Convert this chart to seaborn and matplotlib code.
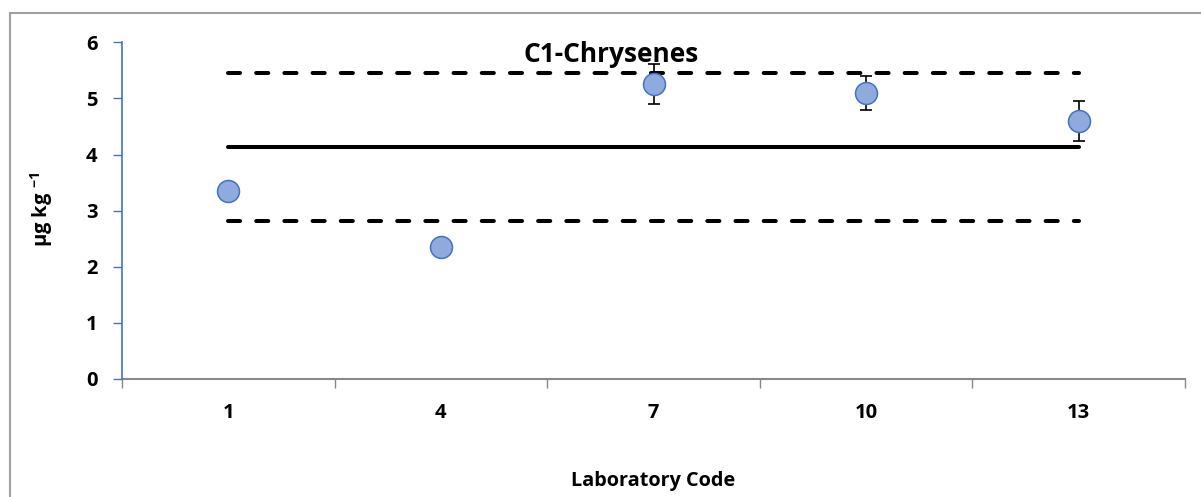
import matplotlib
matplotlib.use("Agg")
import matplotlib.pyplot as plt
from matplotlib.lines import Line2D
import numpy as np
import pandas as pd
import seaborn as sns

# Laboratory results for C1-Chrysenes
lab_codes = ["1", "4", "7", "10", "13"]
lab_values = [3.35, 2.35, 5.26, 5.10, 4.60]
lab_errors = [0.0, 0.0, 0.36, 0.30, 0.35]

# Assigned value and acceptance limits
assigned_value = 4.13
upper_limit = 5.45
lower_limit = 2.81

y_ticks = [0, 1, 2, 3, 4, 5, 6]

sns.set_theme(style="white")
FONT = "Open Sans"
plt.rcParams["font.family"] = [FONT, "DejaVu Sans"]
plt.rcParams["mathtext.fontset"] = "custom"
plt.rcParams["mathtext.rm"] = f"{FONT}:bold"
plt.rcParams["mathtext.bf"] = f"{FONT}:bold"
plt.rcParams["text.color"] = "black"

W, H = 1201, 497
fig = plt.figure(figsize=(W / 100, H / 100), dpi=100)
ax = fig.add_axes([122 / W, 1 - 379 / H, (1185 - 122) / W, (379 - 42.3) / H])

pos = np.arange(len(lab_codes))
df = pd.DataFrame({"pos": pos, "value": lab_values, "err": lab_errors, "lab": lab_codes})

# reference lines spanning the first to the last laboratory
ref = pd.DataFrame({
    "pos": np.concatenate([[pos[0], pos[-1]]] * 3),
    "value": [upper_limit] * 2 + [assigned_value] * 2 + [lower_limit] * 2,
    "kind": ["upper"] * 2 + ["assigned"] * 2 + ["lower"] * 2,
})
for kind, style in [("upper", (3, 4)), ("assigned", ""), ("lower", (3, 4))]:
    sub = ref[ref["kind"] == kind]
    sns.lineplot(data=sub, x="pos", y="value", ax=ax, color="black",
                 linewidth=2.9, legend=False)
    l2d = ax.lines[-1]
    if style:
        l2d.set_dashes(style)
        l2d.set_dash_capstyle("round")
    else:
        l2d.set_solid_capstyle("round")

# error bars for laboratories that reported an uncertainty
has_err = df[df["err"] > 0]
ax.errorbar(has_err["pos"], has_err["value"], yerr=has_err["err"], fmt="none",
            ecolor="black", elinewidth=1.2, capsize=4.6, capthick=1.2, zorder=3)

sns.scatterplot(data=df, x="pos", y="value", ax=ax, s=250, color="#8FAADC",
                edgecolor="#4472C4", linewidth=1.1, zorder=4, legend=False)

ax.set_xlim(-0.5, len(lab_codes) - 0.5)
ax.set_ylim(0, 6)
ax.set_yticks(y_ticks)
ax.set_yticklabels([str(t) for t in y_ticks], fontsize=14.5, fontweight="bold")
ax.set_xticks(pos)
ax.set_xticklabels(lab_codes, fontsize=14.5, fontweight="bold")
ax.set_xticks(np.arange(len(lab_codes) + 1) - 0.5, minor=True)
ax.tick_params(axis="x", which="major", bottom=True, length=0, pad=17,
               labelcolor="black")
ax.tick_params(axis="x", which="minor", bottom=True, length=6.5, width=1,
               color="#898989", direction="out")
ax.tick_params(axis="y", left=True, length=6.5, width=1, color="#4472C4",
               direction="out", pad=11, labelcolor="black")
ax.set_xlabel("")
ax.set_ylabel("")

for side in ["top", "right"]:
    ax.spines[side].set_visible(False)
ax.spines["left"].set_color("#4472C4")
ax.spines["left"].set_linewidth(1.2)
ax.spines["bottom"].set_color("#898989")
ax.spines["bottom"].set_linewidth(1.5)
ax.spines["left"].set_zorder(5)

fig.text(611 / W, 1 - 55 / H, "C1-Chrysenes", ha="center", va="center",
         fontsize=19, fontweight="bold")
fig.text(653 / W, 1 - 481 / H, "Laboratory Code", ha="center", va="center",
         fontsize=14.3, fontweight="bold")
fig.text(42 / W, 1 - 209 / H, r"µg kg $^{-1}$", ha="center", va="center",
         rotation=90, fontsize=14.5, fontweight="bold")

# chart frame
fig.add_artist(Line2D([10 / W, 1], [1 - 12.5 / H, 1 - 12.5 / H], transform=fig.transFigure,
                      color="#A0A0A0", linewidth=1.5))
fig.add_artist(Line2D([10 / W, 10 / W], [0, 1 - 12.5 / H], transform=fig.transFigure,
                      color="#A0A0A0", linewidth=1.5))

fig.savefig("out.png", dpi=100, facecolor="white")
